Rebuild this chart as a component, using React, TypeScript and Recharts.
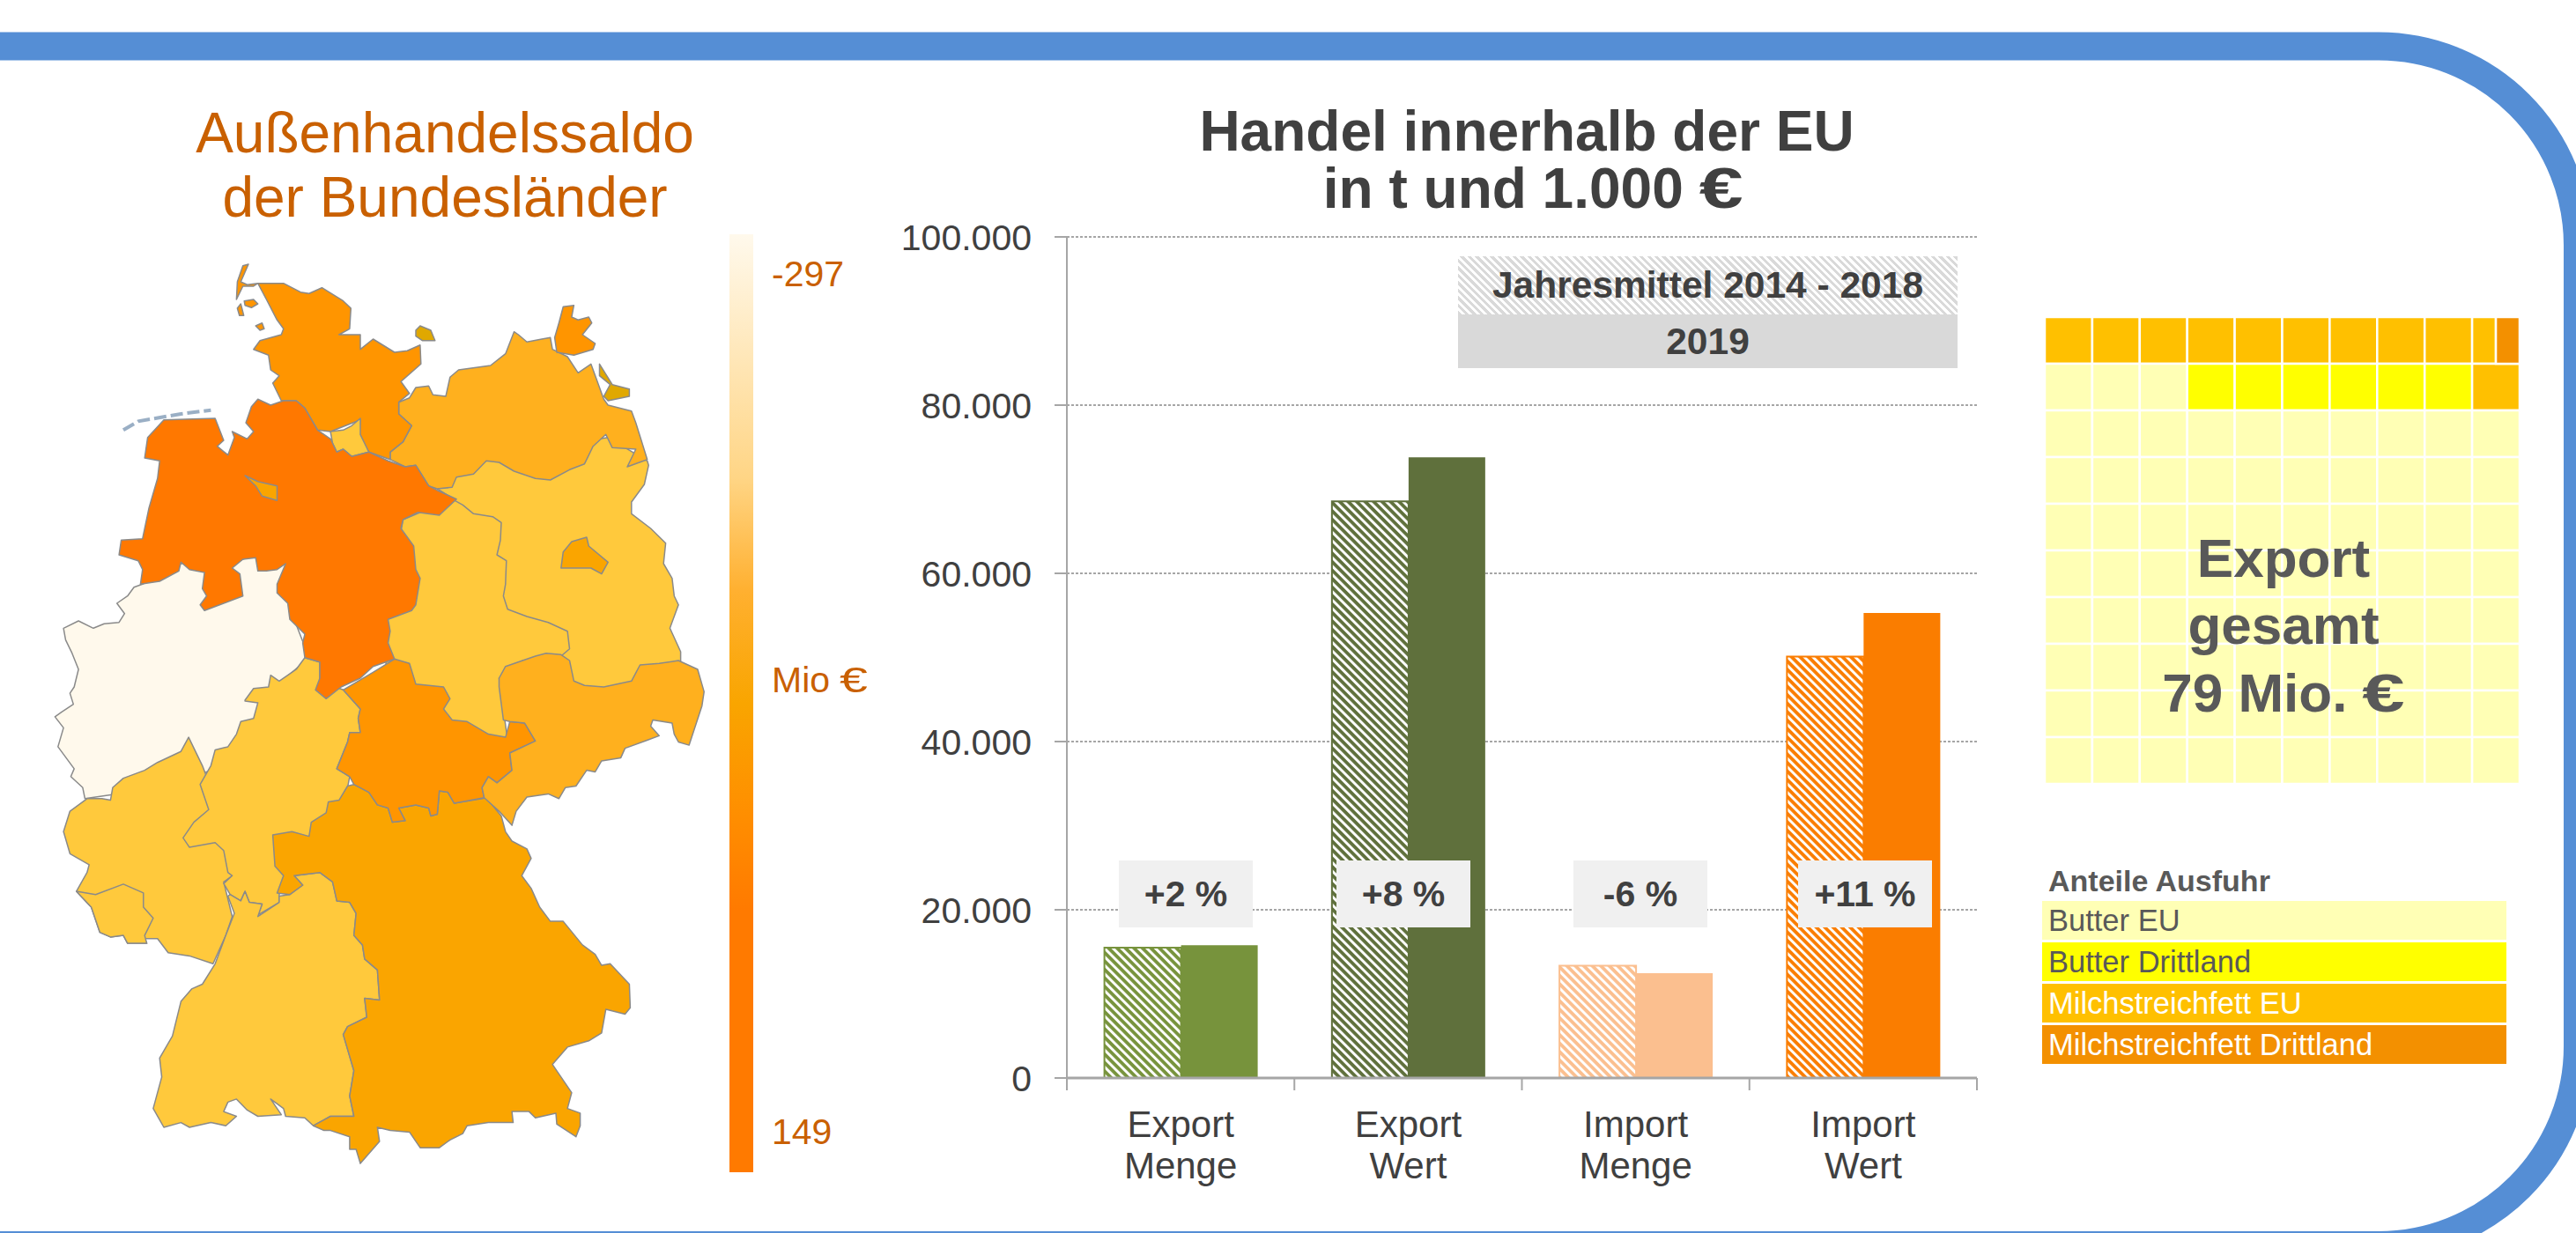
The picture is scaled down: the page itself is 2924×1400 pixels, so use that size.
import { BarChart, Bar, Cell, XAxis, YAxis, CartesianGrid } from 'recharts'

// Handel innerhalb der EU
const CATEGORIES = ['Export Menge', 'Export Wert', 'Import Menge', 'Import Wert']
const MEAN_2014_2018 = [15500, 68550, 13350, 50100]
const VALUES_2019 = [15780, 73800, 12450, 55300]
const CHANGE_LABELS = ['+2 %', '+8 %', '-6 %', '+11 %']
const Y_TICKS = [0, 20000, 40000, 60000, 80000, 100000]
const CATEGORY_COLORS = ['#77933C', '#5F703C', '#FBBF8F', '#FA7D00']
const HATCH_IDS = ['hatchA', 'hatchB', 'hatchC', 'hatchD']

// Anteile Ausfuhr: ein Kästchen = 1 %
const M = 'Milchstreichfett EU'
const D = 'Milchstreichfett Drittland'
const T = 'Butter Drittland'
const E = 'Butter EU'
const SHARE_NAMES = [E, T, M, D]
const SHARE_COLORS = ['#FFFFB5', '#FFFF00', '#FFC000', '#F39000']
const SHARE_TEXT = ['#595959', '#595959', '#FFFFFF', '#FFFFFF']
const PALE_KINDS = [E, E, E, E, E, E, E, E, E, E]
const PALE_WIDTHS = [1, 1, 1, 1, 1, 1, 1, 1, 1, 1]
const WAFFLE_KINDS = [
    [M, M, M, M, M, M, M, M, M, M, D],
    [E, E, E, T, T, T, T, T, T, M],
    PALE_KINDS, PALE_KINDS, PALE_KINDS, PALE_KINDS, PALE_KINDS, PALE_KINDS, PALE_KINDS, PALE_KINDS,
]
const WAFFLE_WIDTHS = [
    [1, 1, 1, 1, 1, 1, 1, 1, 1, 0.5, 0.5],
    PALE_WIDTHS, PALE_WIDTHS, PALE_WIDTHS, PALE_WIDTHS, PALE_WIDTHS, PALE_WIDTHS, PALE_WIDTHS, PALE_WIDTHS, PALE_WIDTHS,
]
const WAFFLE_SLOTS = [0, 1, 2, 3, 4, 5, 6, 7, 8, 9, 10]

const chartData = CATEGORIES.map((name, i) => ({ name, mean: MEAN_2014_2018[i], current: VALUES_2019[i] }))
const waffleData = WAFFLE_WIDTHS.map((widths, r) => {
    const row: Record<string, number | string> = { row: 'r' + r }
    widths.forEach((w, c) => { row['c' + c] = w })
    return row
})

const BOX_LEFT = [1270, 1517, 1786, 2041]
const PLOT_WIDTH = 1033

const parse = (s: string, oy: number, sy: number) =>
    s.trim().split(/\s+/).map(p => {
        const [x, y] = p.split(',').map(Number)
        return `${(60 + x / 2.063).toFixed(1)},${(oy + y / sy).toFixed(1)}`
    })
const N = (s: string) => parse(s, 280, 3)
const S = (s: string) => parse(s, 780, 2.8)

const LIGHT = '#FFC93C'
const MID = '#FFB01E'
const DEEP = '#FF9500'
const BAY = '#FAA500'
const REGIONS: { fill: string; pts: string[] }[] = [
    { fill: '#FFF9EC', pts: [...N('210,1150 190,1160 175,1190 150,1215 168,1250 155,1280 120,1285 95,1300 60,1275 25,1300 30,1340 45,1385 60,1440 50,1500'), ...S('40,20 48,55 20,80 5,95 25,130 12,190 50,260 42,285 70,320 75,355 150,340 300,300 400,250 520,100 520,0'), ...N('600,1400 560,1250 545,1065 470,1050 420,1080 300,1080')] },
    { fill: LIGHT, pts: S('318,160 300,205 245,240 215,265 165,290 140,320 135,360 115,355 80,355 40,395 25,460 40,530 85,565 80,590 55,650 90,700 110,780 135,795 165,790 175,815 220,815 215,800 245,800 270,845 320,855 375,880 405,790 420,730 400,620 420,600 420,500 350,250') },
    { fill: LIGHT, pts: S('55,650 100,660 165,627 212,655 212,700 235,735 215,790 220,815 175,815 165,790 135,795 110,780 90,700') },
    { fill: LIGHT, pts: [...N('450,1545 470,1505 505,1500 510,1460 530,1480 570,1440 590,1400 625,1415 625,1480 680,1510'), ...S('720,70 715,100 720,145 695,145 690,175 665,260 695,285 690,320 640,440 560,560 530,660 530,685 480,725 490,690 460,685 450,650 440,680 415,660 400,625 420,600 410,590 400,520 380,495 320,510 305,480 330,430 365,390 345,310 370,250 380,200 410,190 430,150 440,110 470,100 480,50 450,45')] },
    { fill: LIGHT, pts: S('410,665 425,720 405,790 380,880 350,945 325,960 300,1000 280,1110 250,1180 255,1240 235,1340 260,1400 300,1385 320,1400 370,1385 405,1395 430,1365 400,1350 410,1320 430,1310 455,1345 480,1365 535,1360 510,1310 540,1340 545,1365 590,1370 610,1395 650,1365 705,1365 695,1300 705,1220 680,1105 690,1080 735,1050 730,990 765,995 760,900 730,865 725,820 705,790 710,720 695,685 665,680 655,620 625,590 565,600 585,630 555,660 530,665 530,685 480,730 490,690 460,685 450,650 440,680 415,660') },
    { fill: BAY, pts: S('690,315 705,310 740,335 760,375 785,385 795,430 825,425 810,385 850,375 880,385 885,410 900,405 905,330 925,335 940,370 1005,355 1015,352 1050,410 1060,460 1075,490 1110,515 1120,545 1098,600 1120,640 1140,700 1165,745 1195,745 1240,820 1270,850 1285,885 1305,880 1350,945 1352,1020 1340,1040 1295,1025 1285,1100 1255,1125 1205,1145 1170,1200 1215,1290 1205,1340 1235,1355 1235,1395 1225,1430 1180,1390 1178,1355 1130,1370 1115,1350 1075,1350 1078,1385 1020,1385 970,1395 960,1420 930,1440 905,1465 860,1465 835,1415 790,1410 760,1400 765,1445 720,1515 710,1470 695,1470 695,1430 650,1410 635,1410 610,1395 650,1365 705,1365 695,1300 705,1220 680,1105 690,1080 735,1050 730,990 765,995 760,900 730,865 725,820 705,790 710,720 695,685 665,680 655,620 625,590 565,600 585,630 555,660 525,655 540,600 520,570 515,470 560,460 600,475 605,430 640,400 645,365 670,360') },
    { fill: LIGHT, pts: N('900,825 1000,720 1300,650 1392,730 1395,745 1385,810 1355,870 1355,910 1400,960 1435,1010 1430,1080 1450,1130 1455,1190 1465,1220 1445,1300 1470,1380 1470,1420 1400,1510 1200,1510 1000,1350 950,1000 940,860') },
    { fill: LIGHT, pts: [...N('935,860 960,880 985,910 1030,920 1050,940 1048,1000 1040,1050 1062,1070 1060,1150 1055,1190 1065,1235 1110,1260 1160,1280 1205,1310 1210,1370 1190,1395 1100,1410 1045,1470'), ...S('1065,170 1000,200 850,150 800,0'), ...N('780,1430 780,1250 820,930')] },
    { fill: DEEP, pts: [...N('680,1510 750,1450 800,1405 835,1420 850,1490 880,1495 915,1500 930,1540'), ...S('915,70 935,105 970,110 1020,150 1060,160 1070,110 1105,115 1130,172 1070,210 1075,265 1040,305 1020,285 1005,320 1010,352 940,370 925,335 905,330 900,405 885,410 880,385 850,375 810,385 825,425 795,430 785,385 760,375 740,335 705,310 695,285 665,260 690,175 695,145 720,145 715,100 720,70')] },
    { fill: MID, pts: [...S('1055,105 1070,110 1105,115 1130,172 1070,210 1075,265 1040,305 1020,285 1005,320 1010,352 1045,395 1075,440 1085,395 1110,350 1160,340 1185,355 1200,320 1225,315 1250,265 1270,270 1285,235 1330,225 1340,195 1390,170 1420,155 1400,125 1405,105 1450,115 1455,150 1465,175 1490,185 1520,60 1525,15'), ...N('1510,1440 1465,1410 1420,1420 1375,1425 1355,1480 1290,1500 1245,1495 1220,1480 1210,1410 1190,1390 1155,1385 1130,1395 1100,1410 1060,1430 1045,1470 1045,1500')] },
    { fill: MID, pts: N('790,725 790,700 820,665 840,610 810,570 810,530 835,515 850,480 880,475 890,505 920,510 930,445 950,420 1025,405 1060,365 1080,290 1090,300 1110,325 1145,315 1165,310 1170,350 1205,375 1230,430 1260,400 1290,520 1300,540 1355,560 1365,600 1392,725 1345,750 1365,690 1310,685 1295,640 1265,680 1245,740 1210,760 1165,795 1130,790 1080,765 1045,735 1015,730 985,775 945,785 935,820 900,825 880,815 850,745 825,750') },
    { fill: DEEP, pts: N('480,125 540,125 580,155 600,160 630,140 680,185 698,210 695,280 670,300 720,300 720,350 750,315 800,360 830,355 860,335 862,400 815,460 835,500 810,530 810,570 840,610 820,665 790,700 790,725 740,700 715,650 720,590 650,630 620,625 590,550 570,525 535,525 515,465 530,440 510,420 505,370 470,350 485,320 535,300 540,280 525,250 500,180') },
    { fill: LIGHT, pts: N('650,630 680,625 700,610 720,585 720,640 740,700 700,715 680,690 665,700 655,670') },
    { fill: '#FF7800', pts: N('465,545 480,520 510,540 540,525 570,525 590,550 620,625 650,655 665,700 680,690 700,715 740,700 785,730 825,750 850,745 880,815 900,830 945,860 905,915 855,905 820,930 815,960 845,1020 850,1100 860,1130 850,1220 840,1240 785,1270 790,1310 785,1350 800,1405 750,1430 720,1470 675,1500 640,1540 615,1510 625,1470 625,1415 590,1400 585,1350 590,1320 555,1270 550,1215 525,1180 525,1150 545,1080 525,1100 500,1105 480,1105 475,1060 445,1065 420,1095 438,1115 445,1190 400,1215 355,1240 345,1220 360,1190 350,1165 355,1110 320,1100 300,1075 295,1105 250,1140 205,1150 210,1100 200,1070 155,1050 160,1000 210,995 225,890 245,790 250,730 215,720 222,650 260,590 380,585 400,660 385,680 410,710 425,650 420,630 455,655 470,630 452,600') },
    { fill: BAY, pts: N('450,780 480,800 525,815 525,865 490,850 475,815') },
    { fill: BAY, pts: N('1195,1040 1215,1005 1250,990 1255,1020 1300,1075 1285,1115 1260,1095 1190,1095') },
    { fill: '#E0A800', pts: N('850,285 860,270 885,285 895,320 865,320 850,305') },
    { fill: DEEP, pts: N('1195,205 1220,200 1215,240 1230,250 1255,240 1262,260 1240,300 1270,330 1265,350 1220,370 1180,360 1175,310 1185,260') },
    { fill: '#E0A800', pts: N('1280,400 1310,470 1350,485 1350,510 1300,525 1290,510 1305,470 1280,440') },
    { fill: DEEP, pts: N('430,180 432,120 445,65 458,60 440,120 455,130 480,125 470,135 445,135') },
    { fill: DEEP, pts: N('448,185 470,180 480,195 465,208 450,200') },
    { fill: DEEP, pts: N('432,210 440,195 447,235 437,235') },
    { fill: DEEP, pts: N('475,270 490,260 495,280 485,285') },
]

const FONT = '"Liberation Sans", Arial, sans-serif'
const ORANGE_TEXT = '#C96000'
const DARK_TEXT = '#404040'
const AXIS_GREY = '#A6A6A6'

function Label({ x, y, size, color, bold, center, children }: any) {
    return (
        <div style={{
            position: 'absolute', left: x, top: y - size / 2, fontSize: size, lineHeight: `${size}px`,
            fontWeight: bold ? 700 : 400, color, whiteSpace: 'nowrap',
            transform: center ? 'translateX(-50%)' : undefined,
        }}>{children}</div>
    )
}

// the euro sign in the reference is much wider than the one in this font
const WideEuro = () => (
    <span style={{ display: 'inline-block', transform: 'scaleX(1.4)', transformOrigin: 'left center', marginRight: '0.22em' }}>€</span>
)

// tick marks sit between the categories, not under them
const CategoryTick = ({ x, y, payload, index }: any) => {
    const [first, second] = String(payload.value).split(' ')
    const half = PLOT_WIDTH / CATEGORIES.length / 2
    return (
        <g>
            <line x1={x - half} x2={x - half} y1={y} y2={y + 14} stroke={AXIS_GREY} strokeWidth={2} />
            {index === CATEGORIES.length - 1 && (
                <line x1={x + half} x2={x + half} y1={y} y2={y + 14} stroke={AXIS_GREY} strokeWidth={2} />
            )}
            <text x={x} y={y} textAnchor="middle" fontSize={42} fill={DARK_TEXT} fontFamily={FONT}>
                <tspan x={x} y={y + 67}>{first}</tspan>
                <tspan x={x} y={y + 114}>{second}</tspan>
            </text>
        </g>
    )
}

const formatTick = (v: number) => String(v).replace(/\B(?=(\d{3})+$)/g, '.')

export default function App() {
    return (
        <div style={{ position: 'absolute', left: 0, top: 0, width: 2924, height: 1400, overflow: 'hidden', background: '#fff', fontFamily: FONT }}>
            <svg width={2924} height={1400} style={{ position: 'absolute', left: 0, top: 0 }}>
                <rect x={-300} y={52.5} width={3226} height={1361.5} rx={226} ry={226} fill="none" stroke="#558ED5" strokeWidth={32} />
                <polyline points={N('165,625 200,595 300,570 370,557').join(' ')} fill="none" stroke="#9AAFC5" strokeWidth={4} strokeDasharray="14 5" />
                {REGIONS.map((r, i) => (
                    <polygon key={i} points={r.pts.join(' ')} fill={r.fill} stroke="#8A8A8A" strokeWidth={1.5} strokeLinejoin="round" />
                ))}
            </svg>

            <Label x={505} y={151} size={64} color={ORANGE_TEXT} center>Außenhandelssaldo</Label>
            <Label x={505} y={224} size={64} color={ORANGE_TEXT} center>der Bundesländer</Label>
            <div style={{
                position: 'absolute', left: 828, top: 266, width: 27, height: 1065,
                background: 'linear-gradient(#FFF9EC 0%, #FFD585 26%, #FFB030 38%, #F9A500 50%, #FF8E00 62%, #FF7A00 72%, #FF7A00 100%)',
            }} />
            <Label x={876} y={311} size={41} color={ORANGE_TEXT}>-297</Label>
            <Label x={876} y={772} size={41} color={ORANGE_TEXT}>Mio <WideEuro /></Label>
            <Label x={876} y={1285} size={41} color={ORANGE_TEXT}>149</Label>

            <Label x={1733} y={149} size={64} color={DARK_TEXT} bold center>Handel innerhalb der EU</Label>
            <Label x={1740} y={214} size={64} color={DARK_TEXT} bold center>in t und 1.000 <WideEuro /></Label>

            <div style={{ position: 'absolute', left: 1000, top: 200 }}>
                <BarChart width={1400} height={1200} data={chartData} barCategoryGap="16.5%" barGap={0}
                    margin={{ top: 69, right: 156, bottom: 66, left: 0 }}>
                    <defs>
                        {HATCH_IDS.map((id, i) => (
                            <pattern key={id} id={id} patternUnits="userSpaceOnUse" width={6.8} height={6.8} patternTransform="rotate(45)">
                                <rect width={6.8} height={6.8} fill="#fff" />
                                <rect width={6.8} height={3.8} fill={CATEGORY_COLORS[i]} />
                            </pattern>
                        ))}
                    </defs>
                    <CartesianGrid horizontal vertical={false} stroke={AXIS_GREY} strokeWidth={2} strokeDasharray="3 2" />
                    <XAxis dataKey="name" height={110} tick={<CategoryTick />} tickLine={false} tickSize={0} tickMargin={0} interval={0}
                        axisLine={{ stroke: AXIS_GREY, strokeWidth: 3 }} />
                    <YAxis width={211} domain={[0, 100000]} ticks={Y_TICKS} tickFormatter={formatTick} tickSize={14} tickMargin={26}
                        axisLine={{ stroke: AXIS_GREY, strokeWidth: 2 }} tickLine={{ stroke: AXIS_GREY, strokeWidth: 2 }}
                        tick={{ fontSize: 41, fill: DARK_TEXT, fontFamily: FONT }} />
                    <Bar dataKey="mean" isAnimationActive={false}>
                        {CATEGORIES.map((c, i) => (
                            <Cell key={c} fill={`url(#${HATCH_IDS[i]})`} stroke={CATEGORY_COLORS[i]} strokeWidth={2} />
                        ))}
                    </Bar>
                    <Bar dataKey="current" isAnimationActive={false}>
                        {CATEGORIES.map((c, i) => <Cell key={c} fill={CATEGORY_COLORS[i]} />)}
                    </Bar>
                </BarChart>
            </div>

            {CHANGE_LABELS.map((t, i) => (
                <div key={t} style={{
                    position: 'absolute', left: BOX_LEFT[i], top: 977, width: 152, height: 76, background: '#F0F0F0',
                    display: 'flex', alignItems: 'center', justifyContent: 'center',
                    fontSize: 41, fontWeight: 700, color: DARK_TEXT,
                }}>{t}</div>
            ))}

            <div style={{
                position: 'absolute', left: 1655, top: 291, width: 567, height: 66, textAlign: 'center', lineHeight: '66px',
                fontSize: 42.5, fontWeight: 700, color: DARK_TEXT,
                background: 'repeating-linear-gradient(45deg, #D9D9D9 0 3px, #fff 3px 6px)',
            }}>Jahresmittel 2014 - 2018</div>
            <div style={{
                position: 'absolute', left: 1655, top: 357, width: 567, height: 61, textAlign: 'center', lineHeight: '61px',
                fontSize: 42.5, fontWeight: 700, color: DARK_TEXT, background: '#D9D9D9',
            }}>2019</div>

            <div style={{ position: 'absolute', left: 2321, top: 360 }}>
                <BarChart width={539} height={530} data={waffleData} layout="vertical" barCategoryGap={0}
                    margin={{ top: 0, right: 0, bottom: 0, left: 0 }}>
                    <XAxis type="number" domain={[0, 10]} hide />
                    <YAxis type="category" dataKey="row" hide />
                    {WAFFLE_SLOTS.map(c => (
                        <Bar key={c} dataKey={'c' + c} stackId="w" isAnimationActive={false} stroke="#fff" strokeWidth={2.5}>
                            {WAFFLE_KINDS.map((kinds, r) => (
                                <Cell key={r} fill={SHARE_COLORS[SHARE_NAMES.indexOf(kinds[c])]} />
                            ))}
                        </Bar>
                    ))}
                </BarChart>
            </div>
            <Label x={2592} y={634} size={62} color="#595959" bold center>Export</Label>
            <Label x={2592} y={710} size={62} color="#595959" bold center>gesamt</Label>
            <Label x={2592} y={787} size={62} color="#595959" bold center>79 Mio. <WideEuro /></Label>

            <Label x={2325} y={1000} size={34} color="#595959" bold>Anteile Ausfuhr</Label>
            {SHARE_NAMES.map((name, i) => (
                <div key={name} style={{
                    position: 'absolute', left: 2318, top: 1023 + i * 47, width: 527, height: 44, lineHeight: '44px',
                    paddingLeft: 7, boxSizing: 'border-box', fontSize: 34.5, background: SHARE_COLORS[i], color: SHARE_TEXT[i],
                }}>{name}</div>
            ))}
        </div>
    )
}
